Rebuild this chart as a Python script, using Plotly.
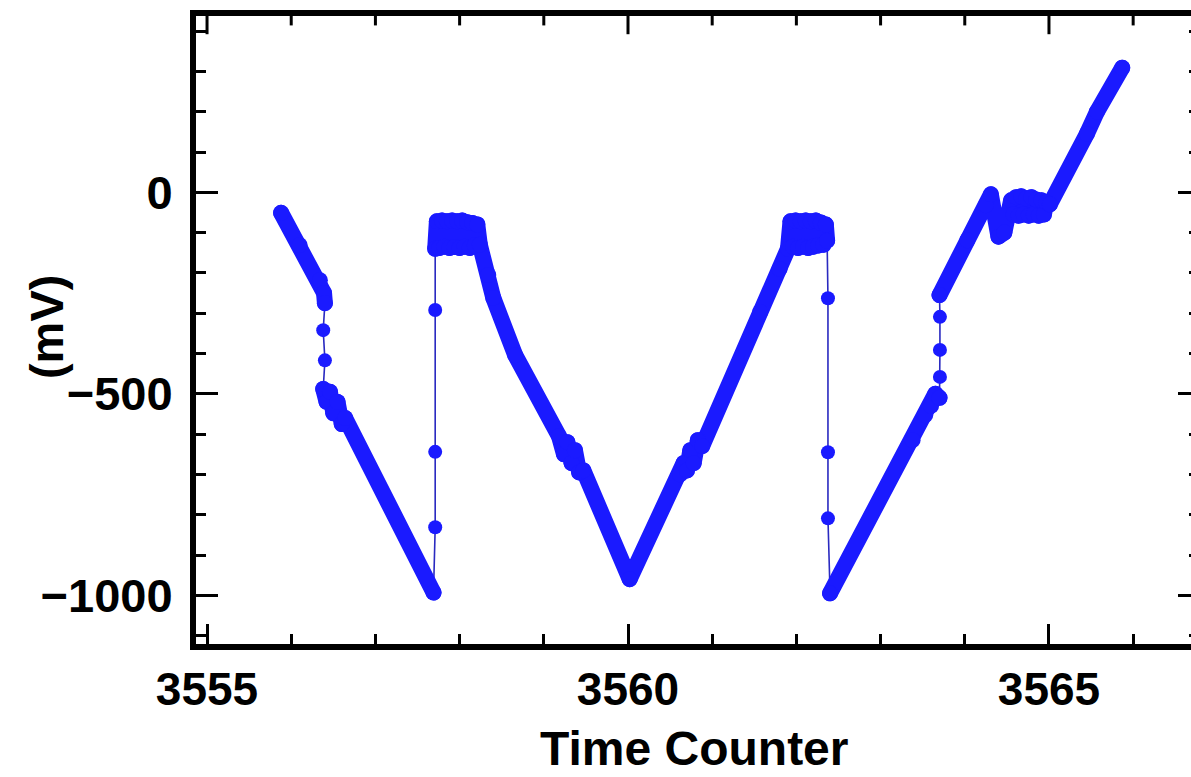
import plotly.graph_objects as go

# ---- data (Time Counter, mV) ----
# dense runs of samples (drawn as a thick band) and the few isolated samples
# taken during the fast jumps, in time order.
descent1_t = [3555.88, 3556.10, 3556.34, 3556.39, 3556.40]
descent1_v = [-51, -131, -218, -250, -275]
jumpA_t = [3556.38, 3556.40]
jumpA_v = [-342, -417]
descent2_t = [3556.38, 3556.42, 3556.46, 3556.50, 3556.55, 3556.60, 3556.64, 3557.69]
descent2_v = [-488, -520, -495, -548, -520, -575, -560, -993]
jumpB_t = [3557.71, 3557.71, 3557.71]
jumpB_v = [-831, -644, -292]
plateau1_t = [3557.71, 3557.73, 3557.76, 3557.79, 3557.82, 3557.85, 3557.88, 3557.91,
              3557.94, 3557.97, 3558.00, 3558.03, 3558.06, 3558.09, 3558.12, 3558.15,
              3558.18, 3558.21, 3558.24,
              3558.34, 3558.40, 3558.66, 3559.18, 3559.24, 3559.28, 3559.33, 3559.37,
              3559.42, 3559.47, 3560.02,
              3560.62, 3560.66, 3560.70, 3560.74, 3560.78, 3560.83, 3560.88, 3561.57,
              3561.80, 3561.90,
              3561.93, 3561.96, 3561.99, 3562.02, 3562.05, 3562.08, 3562.11, 3562.14,
              3562.17, 3562.20, 3562.23, 3562.26, 3562.29, 3562.32, 3562.35, 3562.365]
plateau1_v = [-140, -72, -138, -70, -135, -72, -138, -70,
              -136, -72, -138, -70, -135, -74, -138, -76,
              -132, -80, -130,
              -205, -262, -404, -605, -650, -620, -672, -640,
              -695, -690, -960,
              -700, -672, -690, -640, -672, -615, -630, -297,
              -190, -140,
              -72, -135, -70, -138, -72, -135, -70, -138,
              -72, -135, -70, -132, -75, -130, -80, -120]
jumpC_t = [3562.375, 3562.375, 3562.375]
jumpC_v = [-263, -645, -809]
ascent1_t = [3562.40, 3563.38, 3563.53, 3563.60, 3563.65, 3563.70]
ascent1_v = [-995, -615, -553, -530, -500, -510]
jumpD_t = [3563.705, 3563.705, 3563.705]
jumpD_v = [-458, -391, -309]
ascent2_t = [3563.70, 3564.03, 3564.25, 3564.31, 3564.40, 3564.47,
             3564.55, 3564.58, 3564.61, 3564.64, 3564.67, 3564.70, 3564.73, 3564.76,
             3564.79, 3564.82, 3564.85, 3564.88, 3564.91, 3564.94, 3564.97, 3565.01,
             3565.45, 3565.57, 3565.87]
ascent2_v = [-255, -119, -32, -5, -110, -100,
             -20, -55, -12, -58, -10, -55, -15, -58,
             -12, -55, -18, -58, -20, -55, -25, -30,
             145, 200, 309]

segments = [
    (descent1_t, descent1_v, "dense"),
    (jumpA_t, jumpA_v, "isolated"),
    (descent2_t, descent2_v, "dense"),
    (jumpB_t, jumpB_v, "isolated"),
    (plateau1_t, plateau1_v, "dense"),
    (jumpC_t, jumpC_v, "isolated"),
    (ascent1_t, ascent1_v, "dense"),
    (jumpD_t, jumpD_v, "isolated"),
    (ascent2_t, ascent2_v, "dense"),
]

x_ticks = [3555, 3560, 3565]
x_minor_ticks = [3556, 3557, 3558, 3559, 3561, 3562, 3563, 3564, 3566]
y_ticks = [-1000, -500, 0]

BLUE = "#1a1aff"
LINE_BLUE = "#2a2ac0"
FONT = "Liberation Sans, Arial, Helvetica, sans-serif"

all_x, all_y, band_x, band_y, iso_x, iso_y = [], [], [], [], [], []
for ts, vs, kind in segments:
    all_x += ts
    all_y += vs
    if kind == "dense":
        band_x += ts + [None]
        band_y += vs + [None]
    else:
        iso_x += ts
        iso_y += vs

fig = go.Figure()
fig.add_trace(go.Scatter(x=all_x, y=all_y, mode="lines",
                         line=dict(color=LINE_BLUE, width=1.6),
                         hoverinfo="skip", showlegend=False))
fig.add_trace(go.Scatter(x=band_x, y=band_y, mode="lines+markers",
                         line=dict(color=BLUE, width=16),
                         marker=dict(color=BLUE, size=16),
                         connectgaps=False, showlegend=False))
fig.add_trace(go.Scatter(x=iso_x, y=iso_y, mode="markers",
                         marker=dict(color=BLUE, size=14), showlegend=False))
# invisible trace so the right tick-only axis is drawn
fig.add_trace(go.Scatter(x=[x_ticks[0]], y=[y_ticks[0]], xaxis="x", yaxis="y2",
                         mode="markers", marker=dict(opacity=0),
                         hoverinfo="skip", showlegend=False))

# mirrored ticks along the top frame edge (inside), at the x tick values
for v in x_ticks + x_minor_ticks:
    depth = 0.029 if v in x_ticks else 0.015
    fig.add_shape(type="line", xref="x", yref="paper", x0=v, x1=v,
                  y0=1.0, y1=1.0 - depth,
                  line=dict(color="black", width=3), layer="above")

X_RANGE = [3554.869, 3566.687]
Y_RANGE = [-1120.8, 437.5]

fig.update_layout(
    width=1191, height=777,
    margin=dict(l=196, r=0, t=16, b=133),
    paper_bgcolor="white", plot_bgcolor="white",
    showlegend=False,
    font=dict(family=FONT, color="black"),
    xaxis=dict(
        range=X_RANGE, tickvals=x_ticks, ticktext=[str(v) for v in x_ticks],
        ticks="inside", ticklen=20, tickwidth=3, tickcolor="black",
        showline=True, linewidth=6, linecolor="black", mirror=True,
        showgrid=False, zeroline=False,
        tickfont=dict(size=46, weight="bold", family=FONT),
        ticklabelstandoff=0,
        minor=dict(dtick=1, tick0=3555, ticks="inside", ticklen=10, tickwidth=3,
                   tickcolor="black", showgrid=False),
    ),
    yaxis=dict(
        range=Y_RANGE, tickvals=y_ticks,
        ticks="inside", ticklen=22, tickwidth=3, tickcolor="black",
        showline=True, linewidth=6, linecolor="black", mirror=False,
        showgrid=False, zeroline=False,
        tickfont=dict(size=47, weight="bold", family=FONT),
        ticklabelstandoff=8,
        minor=dict(dtick=100, tick0=0, ticks="inside", ticklen=10, tickwidth=3,
                   tickcolor="black", showgrid=False),
    ),
    yaxis2=dict(
        range=Y_RANGE, overlaying="y", side="right", anchor="x", tickvals=y_ticks,
        ticks="inside", ticklen=13, tickwidth=3, tickcolor="black",
        showline=False, showticklabels=False, showgrid=False, zeroline=False,
        minor=dict(dtick=100, tick0=0, ticks="inside", ticklen=2, tickwidth=3,
                   tickcolor="black", showgrid=False),
    ),
    annotations=[
        dict(text="Time Counter", xref="paper", yref="paper", x=0.5, y=-0.166,
             xanchor="center", yanchor="middle", showarrow=False,
             font=dict(size=48, weight="bold", family=FONT)),
        dict(text="(mV)", xref="paper", yref="paper", x=-0.1497, y=0.5048,
             xanchor="center", yanchor="middle", showarrow=False, textangle=-90,
             font=dict(size=47, weight="bold", family=FONT)),
    ],
)

post = ("document.querySelectorAll('.js-line').forEach(function(p){"
        "p.style.strokeLinejoin='round';p.style.strokeLinecap='round';});")
fig.write_html("out.html", post_script=post)
